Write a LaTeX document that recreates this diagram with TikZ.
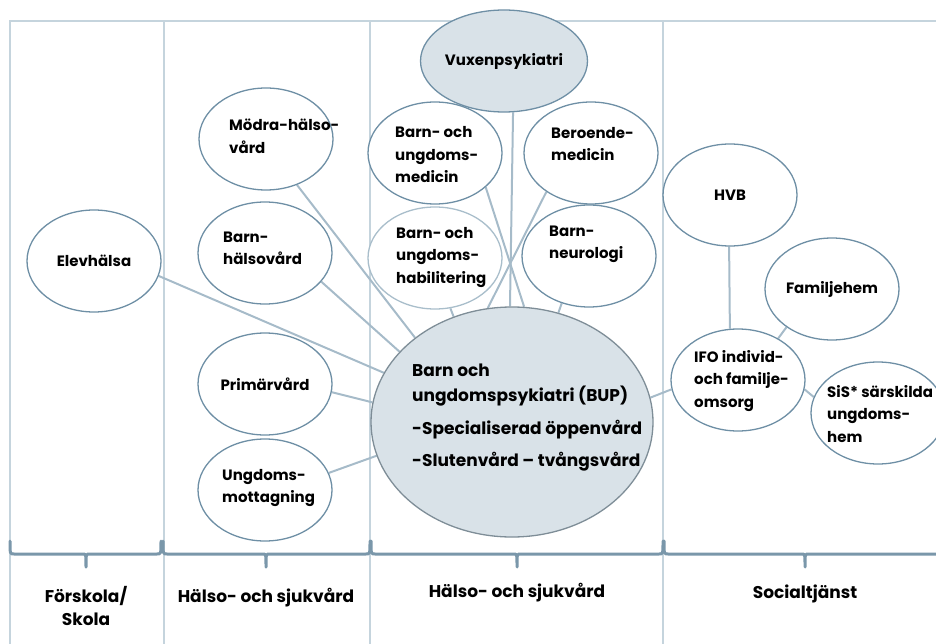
\documentclass[tikz,border=0pt]{standalone}
\usepackage{fontspec}
\setmainfont{Poppins}
\usetikzlibrary{shapes.geometric}
\definecolor{ellstroke}{HTML}{6E8FA5}
\definecolor{conn}{HTML}{A6BBC9}
\definecolor{framec}{HTML}{C5D4DD}
\definecolor{bupfill}{HTML}{D9E2E8}
\definecolor{bupstroke}{HTML}{7E8D97}
\definecolor{bracec}{HTML}{7A97AA}
\definecolor{habstroke}{HTML}{A9BECB}
\newcommand{\mybubfont}{\fontsize{15}{22.5}\selectfont\bfseries}
\newcommand{\mybupfont}{\fontsize{17}{25}\selectfont\bfseries}
\newcommand{\myfootfont}{\fontsize{17}{23}\selectfont\bfseries}
\newcommand{\mybrace}[3]{\draw[bracel] (#1,541) .. controls (#1,554) .. (#1+4,554) -- (#3-3,554) .. controls (#3,554) .. (#3,567) .. controls (#3,554) .. (#3+3,554) -- (#2-4,554) .. controls (#2,554) .. (#2,541);}
\pgfdeclarelayer{bg}
\pgfsetlayers{bg,main}
\begin{document}
\begin{tikzpicture}[x=1pt,y=-1pt,
 bub/.style={ellipse,draw=ellstroke,line width=1.3pt,fill=white,minimum width=134pt,minimum height=102pt,inner sep=0pt,font=\mybubfont},
 lab/.style={anchor=west,align=left,inner sep=0pt,font=\mybubfont},
 conline/.style={draw=conn,line width=2pt},
 frameline/.style={draw=framec,line width=1.5pt},
 bracel/.style={draw=bracec,line width=3pt,line join=round,line cap=round},
 foot/.style={align=center,inner sep=0pt,font=\myfootfont}]
\useasboundingbox (0,0) rectangle (936,644);
\clip (0,0) rectangle (936,644);
% bubbles
\node[bub] (elev) at (94,261) {Elevhälsa};
\node[bub] (modra) at (266,139) {};
\node[lab] (tmodra) at (229,136.5) {Mödra-hälso-\\vård};
\node[bub] (bhv) at (265,253) {};
\node[lab] (tbhv) at (223,248.5) {Barn-\\hälsovård};
\node[bub] (prim) at (265,384) {Primärvård};
\node[bub] (ungd) at (265,490) {};
\node[lab] (tungd) at (222,488) {Ungdoms-\\mottagning};
\node[bub,fill=bupfill] (vux) at (504,61) {Vuxenpsykiatri};
\node[bub] (bum) at (435,153) {};
\node[lab] (tbum) at (395,155) {Barn- och\\ungdoms-\\medicin};
\node[bub] (ber) at (591,153) {};
\node[lab] (tber) at (551,144) {Beroende-\\medicin};
\node[bub,draw=habstroke] (hab) at (435,258) {};
\node[lab] (thab) at (396,257.5) {Barn- och\\ungdoms-\\habilitering};
\node[bub] (neuro) at (589,256) {};
\node[lab] (tneuro) at (549,244.5) {Barn-\\neurologi};
\node[bub,fill=bupfill,draw=bupstroke,minimum width=282pt,minimum height=230pt] (bup) at (512,422) {};
\node[lab,font=\mybupfont] (tbup) at (412,418) {Barn och\\ungdomspsykiatri (BUP)\\[8pt]-Specialiserad öppenvård\\[7pt]-Slutenvård – tvångsvård};
\node[bub] (hvb) at (730,195) {HVB};
\node[bub] (fam) at (832,289) {Familjehem};
\node[bub] (ifo) at (738,380) {};
\node[lab] (tifo) at (694,381) {IFO individ-\\och familje-\\omsorg};
\node[bub] (sis) at (878,413) {};
\node[lab] (tsis) at (827,414) {SiS* särskilda\\ungdoms-\\hem};
% footer labels
\node[foot] (f1) at (86,605.5) {Förskola/\\Skola};
\node[foot] (f2) at (266,598) {Hälso- och sjukvård};
\node[foot] (f3) at (517,593) {Hälso- och sjukvård};
\node[foot] (f4) at (805,594) {Socialtjänst};
% braces
\mybrace{10}{161}{86}
\mybrace{163}{370}{266}
\mybrace{371}{663}{517}
\mybrace{664}{947}{805}
\begin{pgfonlayer}{bg}
\draw[frameline] (10,650) -- (10,21) -- (945,21);
\draw[frameline] (164,21) -- (164,650);
\draw[frameline] (370,21) -- (370,650);
\draw[frameline] (663,21) -- (663,650);
\draw[conline] (elev.-13) -- (bup.159.6);
\draw[conline] (modra.-56) -- (bup.139.4);
\draw[conline] (bhv.-27.8) -- (bup.148.8);
\draw[conline] (prim.-7.6) -- (bup.172);
\draw[conline] (ungd.15.7) -- (bup.194.3);
\draw[conline] (vux.-80) -- (bup.91.5);
\draw[conline] (bum.-34.5) -- (bup.84.5);
\draw[conline] (ber.221) -- (bup.102.6);
\draw[conline] (hab.-73) -- (bup.119.6);
\draw[conline] (neuro.-120) -- (bup.67);
\draw[conline] (bup.10) -- (ifo.188.6);
\draw[conline] (hvb.-91) -- (ifo.99);
\draw[conline] (fam.220) -- (ifo.46);
\draw[conline] (ifo.-8.6) -- (sis.166);
\end{pgfonlayer}
\end{tikzpicture}
\end{document}
